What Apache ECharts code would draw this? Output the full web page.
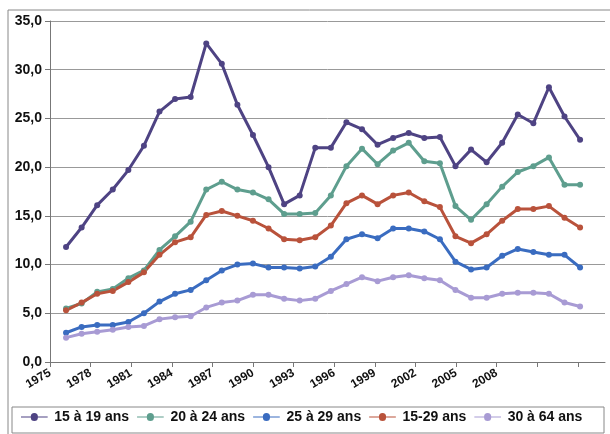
<!DOCTYPE html>
<html>
<head>
<meta charset="utf-8">
<script src="https://cdn.jsdelivr.net/npm/echarts@6/dist/echarts.min.js"></script>
<style>html,body{margin:0;padding:0;background:#fff}#show{width:610px;height:434px}</style>
</head>
<body>
<div id="show"></div>
<script>
var years = [];
for (var y = 1975; y <= 2008; y++) years.push(y);
var axisYears = [];
for (var y = 1975; y <= 2016; y++) axisYears.push(String(y));
var names = ['15 à 19 ans', '20 à 24 ans', '25 à 29 ans', '15-29 ans', '30 à 64 ans'];
var colors = ['#4E4383', '#5E9E8E', '#3A6CC0', '#B9523B', '#A89BD4'];
var s1519 = [11.8,13.8,16.1,17.7,19.7,22.2,25.7,27.0,27.2,32.7,30.6,26.4,23.3,20.0,16.2,17.1,22.0,22.0,24.6,23.9,22.3,23.0,23.5,23.0,23.1,20.1,21.8,20.5,22.5,25.4,24.5,28.2,25.2,22.8];
var s2024 = [5.5,6.0,7.2,7.5,8.6,9.4,11.5,12.9,14.4,17.7,18.5,17.7,17.4,16.7,15.2,15.2,15.3,17.1,20.1,21.9,20.3,21.7,22.5,20.6,20.4,16.0,14.6,16.2,18.0,19.5,20.1,21.0,18.2,18.2];
var s2529 = [3.0,3.6,3.8,3.8,4.1,5.0,6.2,7.0,7.4,8.4,9.4,10.0,10.1,9.7,9.7,9.6,9.8,10.8,12.6,13.1,12.7,13.7,13.7,13.4,12.6,10.3,9.5,9.7,10.9,11.6,11.3,11.0,11.0,9.7];
var s1529 = [5.3,6.1,7.0,7.3,8.2,9.2,11.0,12.3,12.8,15.1,15.5,15.0,14.5,13.7,12.6,12.5,12.8,14.0,16.3,17.1,16.2,17.1,17.4,16.5,15.9,12.9,12.2,13.1,14.5,15.7,15.7,16.0,14.8,13.8];
var s3064 = [2.5,2.9,3.1,3.3,3.6,3.7,4.4,4.6,4.7,5.6,6.1,6.3,6.9,6.9,6.5,6.3,6.5,7.3,8.0,8.7,8.3,8.7,8.9,8.6,8.4,7.4,6.6,6.6,7.0,7.1,7.1,7.0,6.1,5.7];
var allData = [s1519, s2024, s2529, s1529, s3064];

var myChart = echarts.init(document.getElementById('show'));
var series = [];
for (var i = 0; i < names.length; i++) {
    series.push({
        name: names[i], type: 'line', xAxisIndex: 1,
        data: years.map(function (yr, j) { return [yr, allData[i][j]]; }),
        symbol: 'circle', symbolSize: 6,
        lineStyle: {width: 3, color: colors[i]},
        itemStyle: {color: colors[i]}
    });
}
var option = {
    animation: false,
    graphic: [
        {type: 'rect', shape: {x: 8, y: 10, width: 620, height: 440}, style: {fill: 'none', stroke: '#888', lineWidth: 1}},
        {type: 'rect', shape: {x: 12, y: 407, width: 592, height: 26}, style: {fill: 'none', stroke: '#888', lineWidth: 1}}
    ],
    legend: {
        bottom: 5, left: 16, right: 2, itemGap: 8, itemWidth: 30, itemHeight: 8,
        icon: 'path://M0,3.5 L11,3.5 A4,4 0 1 1 19,3.5 L30,3.5 L30,4.5 L19,4.5 A4,4 0 1 1 11,4.5 L0,4.5 Z',
        textStyle: {fontFamily: 'Liberation Sans', fontWeight: 'bold', fontSize: 14, color: '#111'},
        data: names
    },
    grid: {left: 50, right: 5, top: 21, bottom: 72},
    xAxis: [{
        type: 'category', data: axisYears, boundaryGap: false,
        axisLine: {lineStyle: {color: '#777'}},
        axisTick: {lineStyle: {color: '#777'}},
        axisLabel: {interval: 2, rotate: 30, fontFamily: 'Liberation Sans', fontWeight: 'bold', fontSize: 12, color: '#111', margin: 10,
            formatter: function (v) { return +v <= 2008 ? v : ''; }}
    }, {
        type: 'value', min: 1973.97, max: 2009.6, show: false
    }],
    yAxis: {
        type: 'value', min: 0, max: 35, interval: 5,
        axisLine: {show: true, lineStyle: {color: '#777'}},
        axisTick: {show: true, lineStyle: {color: '#777'}},
        splitLine: {lineStyle: {color: '#999'}},
        axisLabel: {fontFamily: 'Liberation Sans', fontWeight: 'bold', fontSize: 14, color: '#111',
            formatter: function (v) { return v.toFixed(1).replace('.', ','); }}
    },
    series: series
};
myChart.setOption(option);
</script>
</body>
</html>
